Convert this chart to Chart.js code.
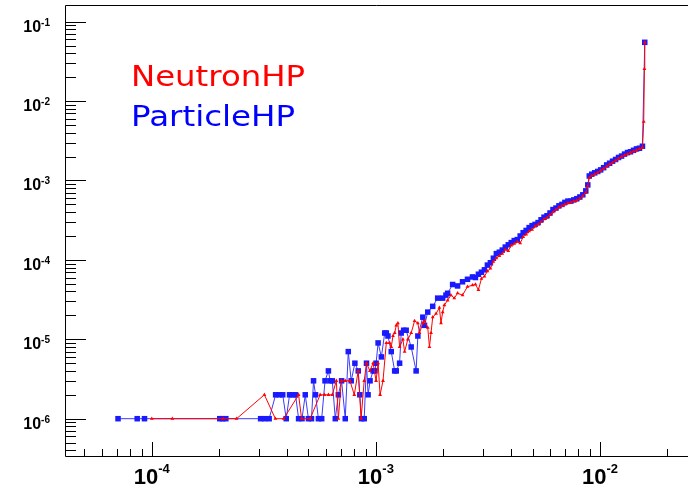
<!DOCTYPE html>
<html><head><meta charset="utf-8">
<script src="https://cdn.jsdelivr.net/npm/chart.js@4/dist/chart.umd.min.js"></script>
<style>html,body{margin:0;padding:0;background:#fff;overflow:hidden}#wrap{width:692px;height:487px}</style>
</head><body><div id="wrap"><canvas id="c" width="692" height="487"></canvas></div>
<script>
// ---- data ----
const seriesNames = ['NeutronHP', 'ParticleHP'];
const neutronX = [1.0e-4,1.235e-4,2.08e-4,2.39e-4,3.18e-4,3.56e-4,3.88e-4,4.52e-4,4.66e-4,5.09e-4,5.64e-4,5.89e-4,6.14e-4,6.39e-4,6.66e-4,6.80e-4,7.01e-4,7.30e-4,7.66e-4,8.01e-4,8.34e-4,8.59e-4,8.87e-4,9.08e-4,9.40e-4,9.72e-4,1.002e-3,1.023e-3,1.044e-3,1.076e-3,1.113e-3,1.152e-3,1.171e-3,1.192e-3,1.213e-3,1.233e-3,1.254e-3,1.276e-3,1.320e-3,1.343e-3,1.389e-3,1.437e-3,1.488e-3,1.539e-3,1.566e-3,1.620e-3,1.648e-3,1.704e-3,1.734e-3,1.762e-3,1.793e-3,1.855e-3,1.920e-3,1.952e-3,1.986e-3,2.021e-3,2.090e-3,2.162e-3,2.238e-3,2.315e-3,2.436e-3,2.563e-3,2.698e-3,2.782e-3,2.868e-3,2.958e-3,3.050e-3,3.145e-3,3.243e-3,3.344e-3,3.448e-3,3.555e-3,3.665e-3,3.779e-3,3.897e-3,4.018e-3,4.143e-3,4.272e-3,4.404e-3,4.541e-3,4.683e-3,4.828e-3,4.978e-3,5.133e-3,5.293e-3,5.458e-3,5.627e-3,5.802e-3,5.983e-3,6.169e-3,6.361e-3,6.559e-3,6.763e-3,6.973e-3,7.190e-3,7.414e-3,7.645e-3,7.883e-3,8.128e-3,8.381e-3,8.642e-3,8.822e-3,8.957e-3,9.187e-3,9.473e-3,9.768e-3,1.007e-2,1.038e-2,1.071e-2,1.104e-2,1.138e-2,1.174e-2,1.210e-2,1.248e-2,1.287e-2,1.327e-2,1.368e-2,1.411e-2,1.455e-2,1.500e-2,1.547e-2,1.567e-2,1.578e-2,1.584e-2];
const neutronY = [1e-6,1e-6,1e-6,1e-6,2e-6,1e-6,1e-6,2e-6,1e-6,1e-6,2e-6,2e-6,2e-6,2e-6,3e-6,1e-6,3e-6,3e-6,3e-6,2e-6,4e-6,1e-6,3e-6,5e-6,4e-6,5e-6,3e-6,5e-6,2e-6,3e-6,9e-6,9e-6,8e-6,1.1e-5,1.2e-5,1.5e-5,1.6e-5,8e-6,1.0e-5,7e-6,1.0e-5,1.2e-5,1.7e-5,1.6e-5,1.2e-5,1.6e-5,1.7e-5,1.4e-5,8e-6,1.2e-5,1.9e-5,2.1e-5,2.5e-5,1.6e-5,2.2e-5,2.7e-5,3.1e-5,3.6e-5,3.3e-5,3.8e-5,3.6e-5,4.6e-5,4.8e-5,4.9e-5,4.2e-5,5.8e-5,6.2e-5,7.2e-5,7.8e-5,9.5e-5,1.05e-4,1.12e-4,1.2e-4,1.35e-4,1.3e-4,1.52e-4,1.6e-4,1.7e-4,1.62e-4,1.95e-4,2.1e-4,2.3e-4,2.4e-4,2.65e-4,2.8e-4,3.0e-4,3.25e-4,3.4e-4,3.7e-4,4.0e-4,4.3e-4,4.6e-4,4.8e-4,5.0e-4,5.2e-4,5.3e-4,5.5e-4,5.6e-4,5.9e-4,6.4e-4,7.0e-4,8.5e-4,1.08e-3,1.15e-3,1.2e-3,1.25e-3,1.33e-3,1.4e-3,1.5e-3,1.6e-3,1.68e-3,1.78e-3,1.88e-3,1.98e-3,2.08e-3,2.15e-3,2.25e-3,2.32e-3,2.4e-3,2.5e-3,2.6e-3,5.5e-3,2.54e-2,5.5e-2];
const particleX = [7.07e-5,8.61e-5,9.28e-5,2.01e-4,2.07e-4,2.14e-4,3.06e-4,3.19e-4,3.34e-4,3.57e-4,3.70e-4,3.84e-4,3.98e-4,4.12e-4,4.25e-4,4.38e-4,4.52e-4,4.68e-4,4.84e-4,5.00e-4,5.16e-4,5.27e-4,5.38e-4,5.54e-4,5.73e-4,5.93e-4,6.14e-4,6.25e-4,6.39e-4,6.59e-4,6.80e-4,7.03e-4,7.30e-4,7.53e-4,7.76e-4,8.06e-4,8.34e-4,8.48e-4,8.62e-4,8.87e-4,9.08e-4,9.23e-4,9.42e-4,9.72e-4,9.89e-4,1.002e-3,1.023e-3,1.058e-3,1.095e-3,1.113e-3,1.132e-3,1.171e-3,1.213e-3,1.233e-3,1.276e-3,1.297e-3,1.33e-3,1.365e-3,1.437e-3,1.512e-3,1.539e-3,1.620e-3,1.648e-3,1.704e-3,1.793e-3,1.887e-3,1.986e-3,2.054e-3,2.090e-3,2.200e-3,2.315e-3,2.436e-3,2.563e-3,2.698e-3,2.782e-3,2.868e-3,2.958e-3,3.050e-3,3.145e-3,3.243e-3,3.344e-3,3.448e-3,3.555e-3,3.665e-3,3.779e-3,3.897e-3,4.018e-3,4.143e-3,4.272e-3,4.404e-3,4.541e-3,4.683e-3,4.828e-3,4.978e-3,5.133e-3,5.293e-3,5.458e-3,5.627e-3,5.802e-3,5.983e-3,6.169e-3,6.361e-3,6.559e-3,6.763e-3,6.973e-3,7.190e-3,7.414e-3,7.645e-3,7.883e-3,8.128e-3,8.381e-3,8.642e-3,8.822e-3,8.957e-3,9.187e-3,9.473e-3,9.768e-3,1.007e-2,1.038e-2,1.071e-2,1.104e-2,1.138e-2,1.174e-2,1.210e-2,1.248e-2,1.287e-2,1.327e-2,1.368e-2,1.411e-2,1.455e-2,1.500e-2,1.547e-2,1.584e-2];
const particleY = [1e-6,1e-6,1e-6,1e-6,1e-6,1e-6,1e-6,1e-6,1e-6,2e-6,2e-6,2e-6,1e-6,2e-6,2e-6,2e-6,1e-6,1e-6,2e-6,1e-6,1e-6,3e-6,2e-6,1e-6,1e-6,3e-6,4e-6,3e-6,3e-6,1e-6,2e-6,3e-6,1e-6,7e-6,3e-6,5e-6,4e-6,2e-6,1e-6,1e-6,5e-6,2e-6,3e-6,4e-6,4e-6,5e-6,9e-6,6e-6,1.2e-5,1.2e-5,1.1e-5,7e-6,4e-6,4e-6,5e-6,1.2e-5,1.3e-5,1.3e-5,8e-6,4e-6,1.1e-5,1.9e-5,1.5e-5,2.2e-5,2.6e-5,3.3e-5,3.3e-5,3.6e-5,3.8e-5,4.9e-5,4.7e-5,5.3e-5,5.7e-5,6.1e-5,6.0e-5,6.6e-5,7.0e-5,7.5e-5,8.6e-5,9.2e-5,1.05e-4,1.2e-4,1.25e-4,1.33e-4,1.45e-4,1.55e-4,1.65e-4,1.75e-4,1.8e-4,2.0e-4,2.2e-4,2.35e-4,2.55e-4,2.7e-4,2.8e-4,2.95e-4,3.2e-4,3.45e-4,3.6e-4,3.9e-4,4.3e-4,4.5e-4,4.8e-4,5.0e-4,5.3e-4,5.5e-4,5.5e-4,5.7e-4,5.9e-4,6.2e-4,6.6e-4,7.4e-4,8.8e-4,1.14e-3,1.2e-3,1.25e-3,1.3e-3,1.36e-3,1.45e-3,1.57e-3,1.65e-3,1.75e-3,1.84e-3,1.95e-3,2.03e-3,2.15e-3,2.25e-3,2.3e-3,2.4e-3,2.5e-3,2.55e-3,2.7e-3,5.5e-2];
const xTickExponents = [-4, -3, -2];
const yTickExponents = [-6, -5, -4, -3, -2, -1];
const xRange = [4.10e-5, 0.0247];
const yRange = [3.39e-7, 0.1623];

function pts(xs, ys) { return xs.map((v, i) => ({ x: v, y: ys[i] })); }

const rootAxes = {
  id: 'rootAxes',
  afterDatasetsDraw(chart) {
    const { ctx, chartArea: a, scales } = chart;
    const xs = scales.x, ys = scales.y;
    ctx.save();
    ctx.strokeStyle = '#000';
    ctx.lineWidth = 1;
    // frame
    ctx.beginPath();
    ctx.moveTo(a.right, a.top + 0.5); ctx.lineTo(a.left + 0.5, a.top + 0.5);
    ctx.lineTo(a.left + 0.5, a.bottom + 0.5); ctx.lineTo(a.right, a.bottom + 0.5);
    ctx.stroke();
    // y ticks
    for (let e = -8; e <= 0; e++) {
      for (let m = 1; m <= 9; m++) {
        const v = m * Math.pow(10, e);
        if (v < yRange[0] || v > yRange[1]) continue;
        const p = Math.round(ys.getPixelForValue(v)) + 0.5;
        const len = m === 1 ? 21 : 11;
        ctx.beginPath(); ctx.moveTo(a.left, p); ctx.lineTo(a.left + len, p); ctx.stroke();
      }
    }
    // x ticks
    for (let e = -6; e <= 0; e++) {
      for (let m = 1; m <= 9; m++) {
        const v = m * Math.pow(10, e);
        if (v < xRange[0] || v > xRange[1]) continue;
        const p = Math.round(xs.getPixelForValue(v)) + 0.5;
        const len = m === 1 ? 14 : 7;
        ctx.beginPath(); ctx.moveTo(p, a.bottom + 0.5); ctx.lineTo(p, a.bottom - len); ctx.stroke();
      }
    }
    // labels
    ctx.fillStyle = '#000';
    ctx.textBaseline = 'alphabetic';
    const bigY = 'bold 16px "Liberation Sans", Arial, sans-serif';
    const supY = 'bold 10px "Liberation Sans", Arial, sans-serif';
    yTickExponents.forEach(e => {
      const p = ys.getPixelForValue(Math.pow(10, e));
      const sup = String(e);
      ctx.font = supY; const sw = ctx.measureText(sup).width;
      const right = 50;
      ctx.textAlign = 'right';
      ctx.fillText(sup, right, p + 4);
      ctx.font = bigY;
      ctx.fillText('10', right - sw, p + 10);
    });
    const bigX = 'bold 22px "Liberation Sans", Arial, sans-serif';
    const supX = 'bold 13px "Liberation Sans", Arial, sans-serif';
    xTickExponents.forEach(e => {
      const p = xs.getPixelForValue(Math.pow(10, e));
      const sup = String(e);
      ctx.font = supX; const sw = ctx.measureText(sup).width;
      ctx.font = bigX; const bw = ctx.measureText('10').width;
      const start = p - (sw + bw) / 2;
      ctx.textAlign = 'left';
      ctx.fillText('10', start, 484);
      ctx.font = supX;
      ctx.fillText(sup, start + bw, 473);
    });
    // legend text
    const legend = [[seriesNames[0], '#ff0000', 86, 171], [seriesNames[1], '#0000ff', 126, 161]];
    ctx.font = '27.5px "DejaVu Sans", Verdana, sans-serif';
    ctx.textAlign = 'left';
    legend.forEach(([t, c, base, w]) => {
      const m = ctx.measureText(t);
      const ink = m.actualBoundingBoxRight + m.actualBoundingBoxLeft;
      const s = w / ink;
      ctx.save();
      ctx.translate(131, base);
      ctx.scale(s, 1);
      ctx.fillStyle = c;
      ctx.fillText(t, 0, 0);
      ctx.restore();
    });
    ctx.restore();
  }
};

new Chart(document.getElementById('c'), {
  type: 'scatter',
  data: {
    datasets: [
      { label: seriesNames[0], data: pts(neutronX, neutronY), showLine: true,
        borderColor: '#ff0000', borderWidth: 1, backgroundColor: '#ff0000',
        pointStyle: 'triangle', pointRadius: 2.2, pointBorderWidth: 0, pointBackgroundColor: '#ff0000' },
      { label: seriesNames[1], data: pts(particleX, particleY), showLine: true,
        borderColor: '#3a3aff', borderWidth: 1, backgroundColor: '#0000ff',
        pointStyle: 'rect', pointRadius: 3.9, pointBorderWidth: 0, pointBackgroundColor: '#1a1aff' }
    ]
  },
  options: {
    responsive: false, animation: false, devicePixelRatio: 1,
    layout: { padding: { left: 65, top: 5, right: 0, bottom: 31 } },
    scales: {
      x: { type: 'logarithmic', min: xRange[0], max: xRange[1], display: false },
      y: { type: 'logarithmic', min: yRange[0], max: yRange[1], display: false }
    },
    plugins: { legend: { display: false }, tooltip: { enabled: false } }
  },
  plugins: [rootAxes]
});
</script>
</body></html>
